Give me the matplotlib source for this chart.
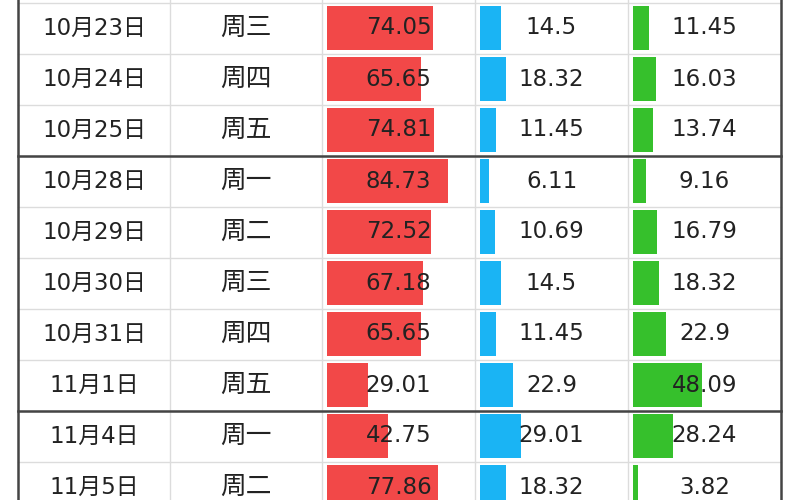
import matplotlib
matplotlib.use("Agg")
import matplotlib.pyplot as plt

plt.rcParams['font.family'] = ['DejaVu Sans', 'Noto Sans CJK SC']

dates = ['10月23日', '10月24日', '10月25日', '10月28日', '10月29日',
         '10月30日', '10月31日', '11月1日', '11月4日', '11月5日']
weekdays = ['周三', '周四', '周五', '周一', '周二', '周三', '周四', '周五', '周一', '周二']
red_vals = [74.05, 65.65, 74.81, 84.73, 72.52, 67.18, 65.65, 29.01, 42.75, 77.86]
blue_vals = [14.5, 18.32, 11.45, 6.11, 10.69, 14.5, 11.45, 22.9, 29.01, 18.32]
green_vals = [11.45, 16.03, 13.74, 9.16, 16.79, 18.32, 22.9, 48.09, 28.24, 3.82]

# column edges in pixels, row height in pixels
col_edges = [18, 170, 322, 475, 628, 781]
row_top = 2.5
row_h = 51
px_per_unit = 1.43

fig = plt.figure(figsize=(8, 5), dpi=100)
ax = fig.add_axes([0, 0, 1, 1])
ax.set_xlim(0, 800)
ax.set_ylim(500, 0)
ax.axis('off')

n = len(dates)
ys = [row_top + row_h * i for i in range(n)]

# data bars
bar_cols = [(2, red_vals, '#f24848'), (3, blue_vals, '#1ab4f4'), (4, green_vals, '#36c02c')]
for c, vals, color in bar_cols:
    left = col_edges[c] + 5
    ax.barh([y + 3 for y in ys], [v * px_per_unit for v in vals], height=44,
            left=left, align='edge', color=color, zorder=2)

# grid lines
for i in range(n + 1):
    y = row_top + row_h * i
    ax.plot([col_edges[0], col_edges[-1]], [y, y], color='#dcdcdc', lw=1, zorder=1)
for x in col_edges[1:-1]:
    ax.plot([x, x], [0, 500], color='#dcdcdc', lw=1, zorder=1)

# week separators
for i in range(1, n):
    if weekdays[i] == '周一':
        y = row_top + row_h * i
        ax.plot([col_edges[0], col_edges[-1]], [y, y], color='#444444', lw=1.8, zorder=4)
ax.plot([col_edges[0], col_edges[0]], [0, 500], color='#444444', lw=1.8, zorder=4)
ax.plot([col_edges[-1], col_edges[-1]], [0, 500], color='#444444', lw=1.8, zorder=4)

# texts
centers = [(col_edges[k] + col_edges[k + 1]) / 2 for k in range(5)]
sizes = [16.5, 18.5, 16.5, 16.5, 16.5]
for i in range(n):
    yc = ys[i] + row_h / 2
    row_text = [dates[i], weekdays[i], f'{red_vals[i]:g}', f'{blue_vals[i]:g}', f'{green_vals[i]:g}']
    for k, t in enumerate(row_text):
        ax.text(centers[k], yc, t, ha='center', va='center', fontsize=sizes[k],
                color='#222222', zorder=5)

fig.savefig('out.png', dpi=100, facecolor='white')
